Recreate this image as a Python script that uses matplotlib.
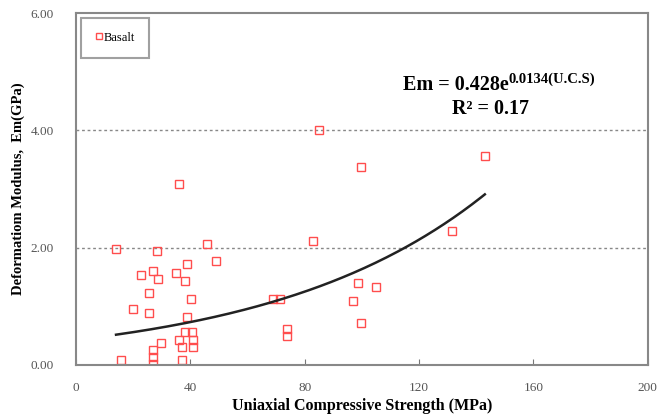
import numpy as np
import matplotlib
matplotlib.use("Agg")
import matplotlib.pyplot as plt

# data
ucs = [14.0, 15.6, 19.8, 22.7, 25.5, 25.6, 26.8, 26.8, 26.8, 26.8, 28.4, 28.8,
       29.9, 34.9, 36.0, 36.1, 36.9, 36.9, 38.2, 38.1, 38.9, 38.9, 40.1, 40.6,
       40.8, 40.8, 45.9, 48.9, 68.9, 71.3, 73.8, 73.8, 82.9, 85.0, 96.9, 98.8,
       99.8, 99.8, 104.8, 131.6, 143.0]
em = [1.98, 0.09, 0.95, 1.53, 1.23, 0.88, 1.61, 0.25, 0.14, 0.02, 1.95, 1.47,
      0.38, 1.57, 3.08, 0.43, 0.31, 0.08, 1.44, 0.56, 1.72, 0.81, 1.13, 0.56,
      0.43, 0.31, 2.06, 1.78, 1.13, 1.12, 0.62, 0.49, 2.11, 4.00, 1.09, 1.40,
      3.38, 0.72, 1.33, 2.29, 3.56]
coef_a = 0.428
coef_b = 0.0134
xticks = [0, 40, 80, 120, 160, 200]
yticks = [0, 2, 4, 6]

plt.rcParams['font.family'] = ['Liberation Serif', 'DejaVu Serif']

fig = plt.figure(figsize=(6.61, 4.20), dpi=100)
ax = fig.add_axes([0.115, 0.131, 0.865, 0.838])

ax.plot(ucs, em, 's', ms=6, mfc='none', mec='#ff4d4d', mew=1.0, label='Basalt')

# exponential trend line
xf = np.linspace(min(ucs), max(ucs), 200)
ax.plot(xf, coef_a * np.exp(coef_b * xf), color='#222222', lw=1.8)

ax.set_xlim(0, 200)
ax.set_ylim(0, 6)
ax.set_xticks(xticks)
ax.set_yticks(yticks)
ax.set_yticklabels([f"{v:.2f}" for v in yticks])
for v in [2, 4]:
    ax.axhline(v, color='#888888', lw=1.0, ls=(0, (2, 2)), zorder=0)

ax.tick_params(axis='x', direction='in', length=4, color='#777777',
               labelsize=9.5, labelcolor='#555555', pad=12)
ax.tick_params(axis='y', length=0, labelsize=9.5, labelcolor='#555555', pad=16)
for s in ax.spines.values():
    s.set_color('#888888')
    s.set_linewidth(1.5)

ax.set_xlabel('Uniaxial Compressive Strength (MPa)', fontsize=11.5,
              fontweight='bold', labelpad=3)
ax.set_ylabel('Deformatiom Modulus,  Em(GPa)', fontsize=10.5,
              fontweight='bold', labelpad=4)

# equation: base text plus a superscript placed at its top-right corner
eq = ax.text(0.572, 0.795, f'Em = {coef_a}e', transform=ax.transAxes,
             ha='left', va='center', fontsize=14.5, fontweight='bold')
ax.annotate(f'{coef_b}(U.C.S)', xy=(1, 0.45), xycoords=eq,
            ha='left', va='bottom', fontsize=10.5, fontweight='bold')
ax.text(0.725, 0.728, 'R² = 0.17',
        transform=ax.transAxes, ha='center', va='center', fontsize=14.5,
        fontweight='bold')

leg = ax.legend(loc='upper left', fontsize=9, handlelength=0.6,
                handletextpad=0.1, borderpad=1.1, markerscale=0.7,
                fancybox=False, borderaxespad=0.4)
leg.get_frame().set_edgecolor('#888888')
leg.get_frame().set_linewidth(1.5)

fig.savefig('out.png', dpi=100)
